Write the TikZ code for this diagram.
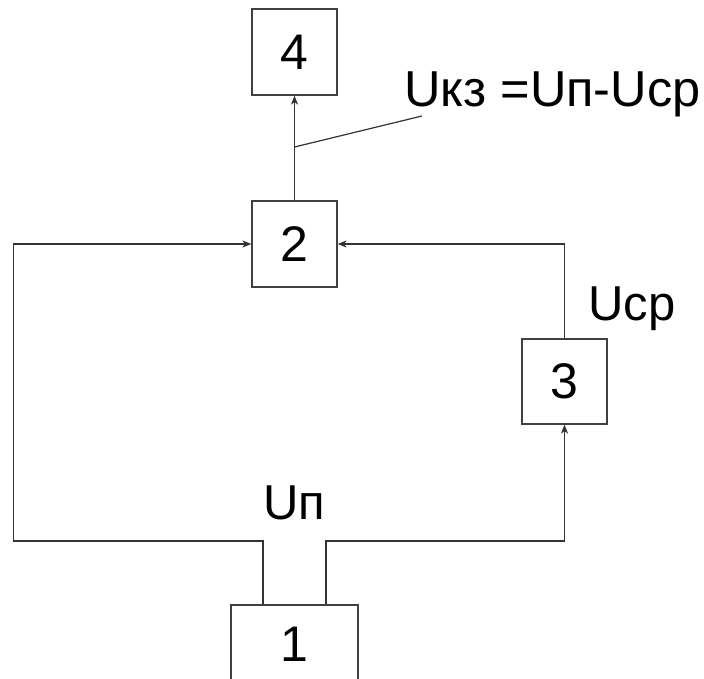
\documentclass[tikz,border=0pt]{standalone}
\usepackage{fontspec}
\setmainfont{Liberation Sans}
\usetikzlibrary{arrows.meta}
\begin{document}
\begin{tikzpicture}[x=1pt,y=-1pt,
  blk/.style={draw=black!75,line width=1.2pt,inner sep=0pt,minimum width=85pt,minimum height=86pt,font=\fontsize{50}{50}\selectfont},
  wire/.style={draw=black!80,line width=1.2pt},
  arr/.style={wire,-{Stealth[length=9pt,width=7pt,inset=2.5pt]}},
  lbl/.style={inner sep=0pt,font=\fontsize{49}{49}\selectfont}]
\clip (0,0) rectangle (704,679);
\fill[white] (0,0) rectangle (704,679);
\node[blk] (b4) at (294.5,52) {4};
\node[blk] (b2) at (294.5,244) {2};
\node[blk,minimum height=85pt] (b3) at (564.5,381.5) {3};
\node[blk,minimum width=127pt,minimum height=78pt] (b1) at (294.5,644) {1};
\coordinate (cl) at (13.5,541);
\coordinate (cr) at (564.5,541);
\coordinate (tap) at (294.5,147);
\coordinate (lead) at (422,116);
\draw[arr] ([xshift=-31.5pt]b1.north) |- (cl) |- (b2.west);
\draw[arr] ([xshift=31.5pt]b1.north) |- (cr) -- (b3.south);
\draw[arr] (b3.north) |- (b2.east);
\draw[arr] (b2.north) -- (b4.south);
\draw[wire] (tap) -- (lead);
\node[lbl,anchor=base west,font=\fontsize{50.5}{50}\selectfont] (lk) at (404,107) {Uкз =Uп-Uср};
\node[lbl,anchor=base west] (lc) at (588,320) {Uср};
\node[lbl,anchor=base] (ln) at (294,519) {Uп};
\end{tikzpicture}
\end{document}
